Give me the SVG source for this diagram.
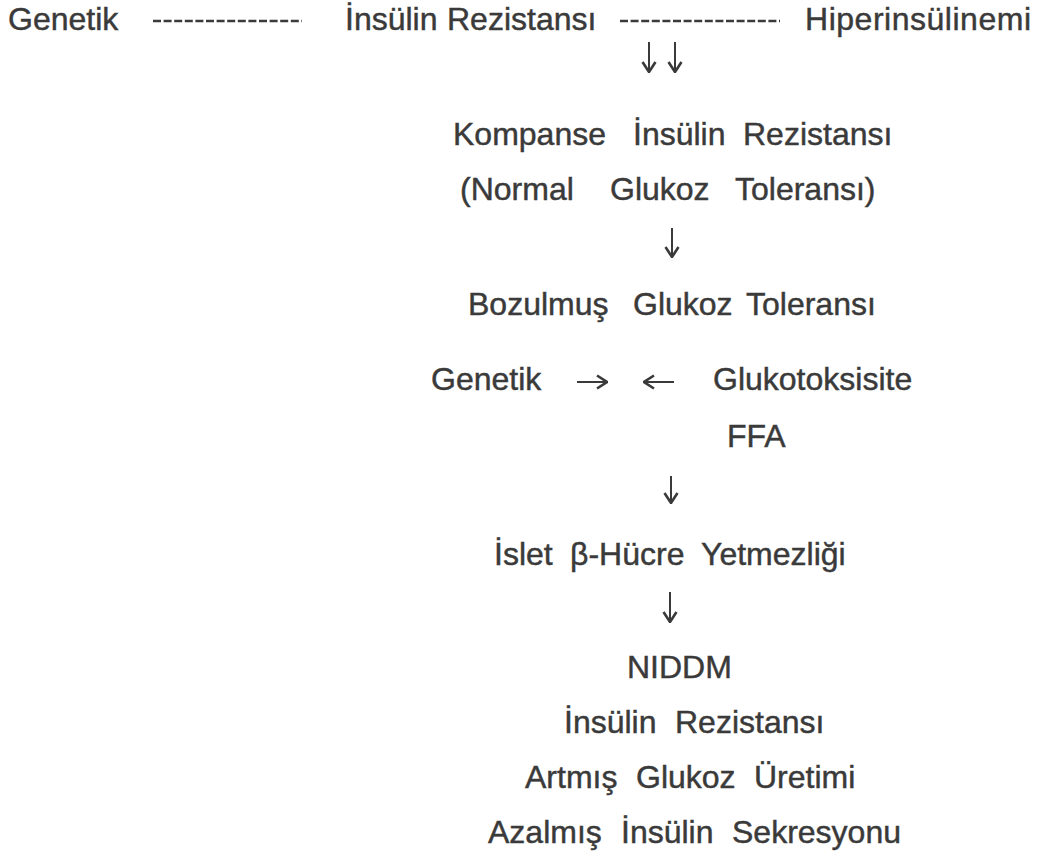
<svg xmlns="http://www.w3.org/2000/svg" width="1038" height="855" viewBox="0 0 1038 855">
<defs>
<style>
text{font-family:"Liberation Sans",Arial,"Noto Sans",sans-serif;font-size:32px;fill:#3a3a3a;stroke:#3a3a3a;stroke-width:0.45px;}
.c{stroke:#3a3a3a;stroke-width:2;fill:none;}
.d{stroke:#3a3a3a;stroke-width:2.5;fill:none;stroke-dasharray:8 2.6;}
</style>
<marker id="head" viewBox="0 0 12 16" refX="11" refY="8" markerWidth="12" markerHeight="16" markerUnits="userSpaceOnUse" orient="auto">
<path d="M1,1.5 L11,8 L1,14.5" stroke="#3a3a3a" stroke-width="2.6" fill="none"/>
</marker>
</defs>
<rect width="1038" height="855" fill="#ffffff"/>
<g id="n-genetik1"><text x="8" y="30">Genetik</text></g>
<g id="n-insulin-rez1"><text y="30"><tspan x="345">İnsülin</tspan><tspan x="447">Rezistansı</tspan></text></g>
<g id="n-hiperinsulinemi"><text x="805" y="30" textLength="226" lengthAdjust="spacing">Hiperinsülinemi</text></g>
<g id="n-kompanse"><text y="145"><tspan x="453">Kompanse</tspan><tspan x="633">İnsülin</tspan><tspan x="743">Rezistansı</tspan></text></g>
<g id="n-normal"><text y="200"><tspan x="460">(Normal</tspan><tspan x="610">Glukoz</tspan><tspan x="735">Toleransı)</tspan></text></g>
<g id="n-bozulmus"><text y="315"><tspan x="468">Bozulmuş</tspan><tspan x="633">Glukoz</tspan><tspan x="746">Toleransı</tspan></text></g>
<g id="n-genetik2"><text x="431" y="390">Genetik</text></g>
<g id="n-glukotoksisite"><text x="713" y="390">Glukotoksisite</text></g>
<g id="n-ffa"><text x="727" y="447">FFA</text></g>
<g id="n-islet"><text y="565"><tspan x="494">İslet</tspan><tspan x="570">β-Hücre</tspan><tspan x="701">Yetmezliği</tspan></text></g>
<g id="n-niddm"><text x="627" y="678">NIDDM</text></g>
<g id="n-insulin-rez2"><text y="733"><tspan x="564">İnsülin</tspan><tspan x="675">Rezistansı</tspan></text></g>
<g id="n-artmis"><text y="788"><tspan x="525">Artmış</tspan><tspan x="636">Glukoz</tspan><tspan x="754">Üretimi</tspan></text></g>
<g id="n-azalmis"><text y="843"><tspan x="488">Azalmış</tspan><tspan x="621">İnsülin</tspan><tspan x="732">Sekresyonu</tspan></text></g>
<g id="connectors">
<line class="d" x1="153" y1="21" x2="302" y2="21"/>
<line class="d" x1="620" y1="21" x2="780" y2="21"/>
<line class="c" x1="649" y1="42" x2="649" y2="72" marker-end="url(#head)"/>
<line class="c" x1="675" y1="42" x2="675" y2="72" marker-end="url(#head)"/>
<line class="c" x1="672" y1="228" x2="672" y2="257" marker-end="url(#head)"/>
<line class="c" x1="577" y1="382" x2="607" y2="382" marker-end="url(#head)"/>
<line class="c" x1="674" y1="382" x2="644" y2="382" marker-end="url(#head)"/>
<line class="c" x1="671" y1="476" x2="671" y2="503" marker-end="url(#head)"/>
<line class="c" x1="670" y1="592" x2="670" y2="622" marker-end="url(#head)"/>
</g>
</svg>
